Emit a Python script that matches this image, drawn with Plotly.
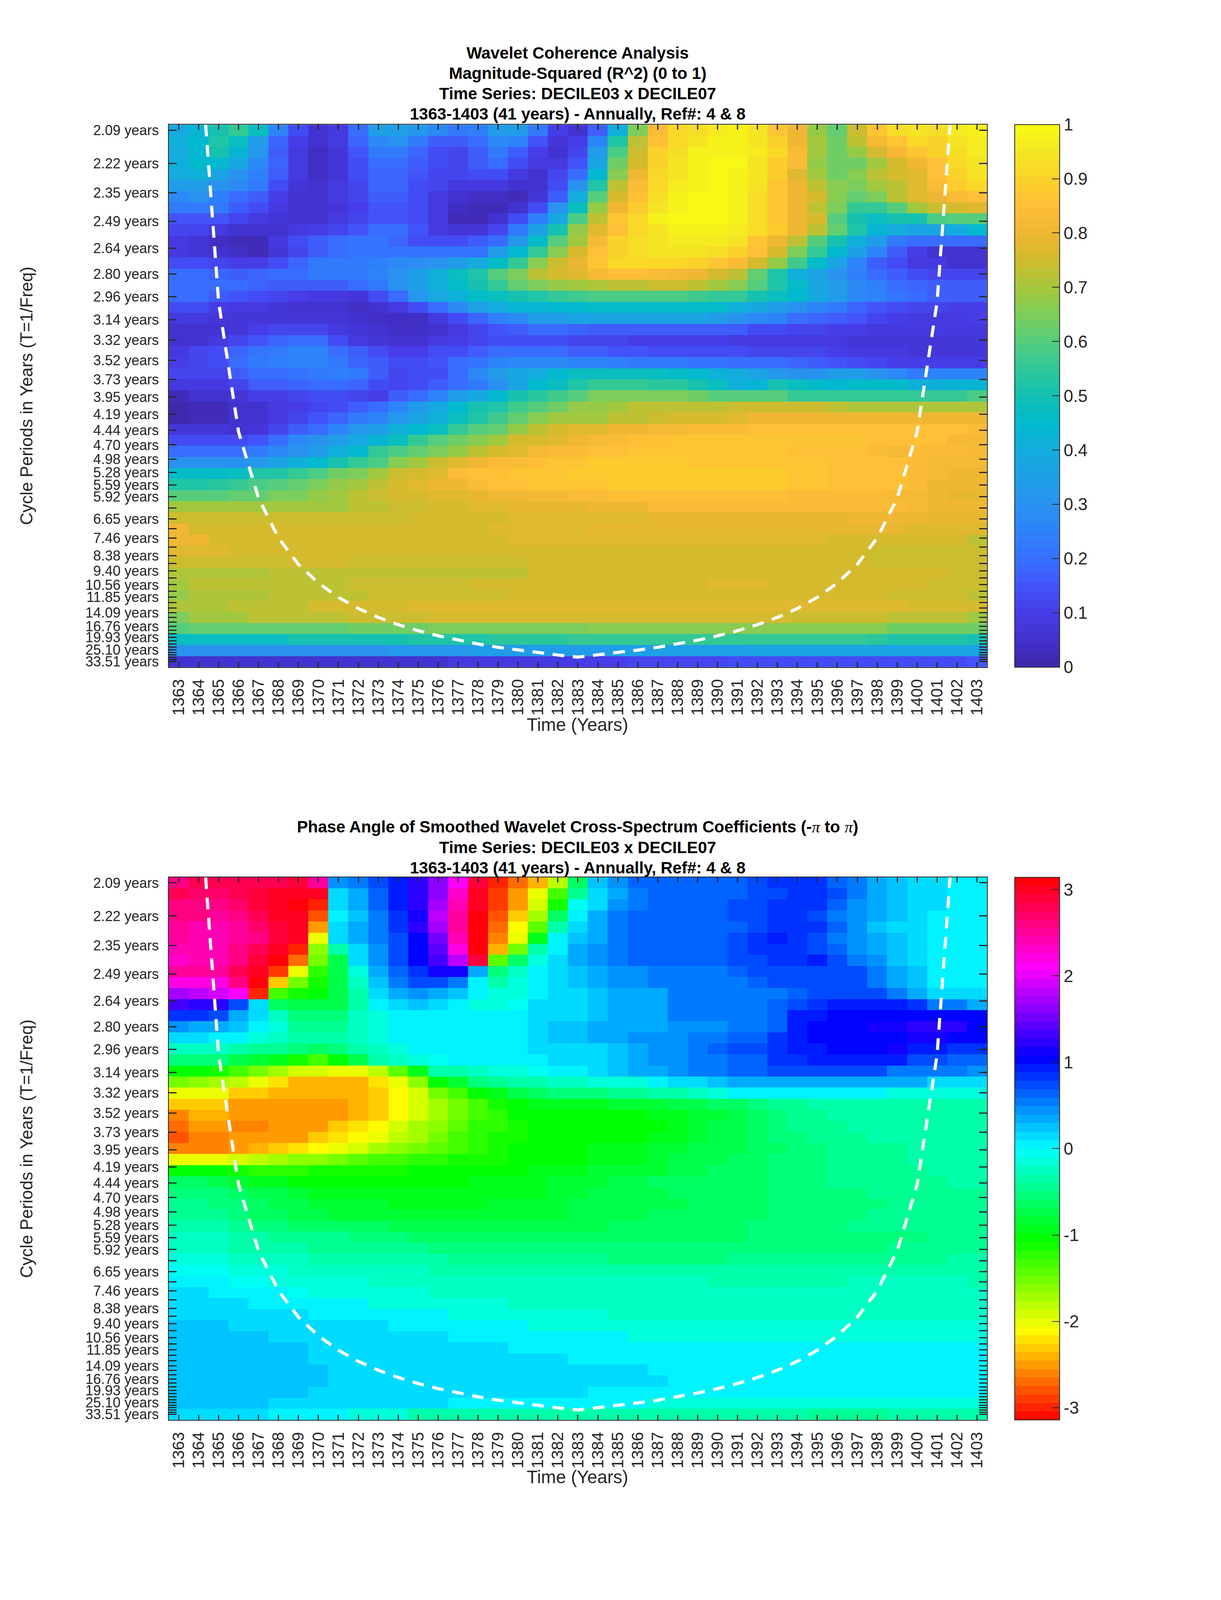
import colorsys
import numpy as np
import plotly.graph_objects as go

W, H = 3125, 6252

YEARS = list(range(1363, 1404))

# cwt periods, every scale gets a tick, only some have a label
PERIODS = [2.09, 2.22, 2.35, 2.49, 2.64, 2.80, 2.96, 3.14, 3.32, 3.52, 3.73, 3.95, 4.19, 4.44, 4.70, 4.98, 5.28,
           5.59, 5.92, 6.27, 6.65, 7.05, 7.46, 7.90, 8.38, 8.88, 9.40, 9.96, 10.56, 11.19, 11.85, 12.55, 13.30,
           14.09, 14.93, 15.82, 16.76, 17.76, 18.81, 19.93, 21.12, 22.37, 23.71, 25.10, 26.60, 28.18, 29.86,
           31.63, 33.51]
UNLABELLED = [6.27, 7.05, 7.90, 8.88, 9.96, 11.19, 12.55, 13.30, 14.93, 15.82, 17.76, 18.81, 21.12, 22.37, 23.71,
              26.60, 28.18, 29.86, 31.63]

# cone of influence
COI_YEAR = [1364.35, 1365, 1366, 1367, 1368, 1369, 1370, 1371, 1372, 1373, 1374, 1375, 1376, 1377, 1378, 1379, 1380,
            1381, 1382, 1383, 1384, 1385, 1386, 1387, 1388, 1389, 1390, 1391, 1392, 1393, 1394, 1395, 1396, 1397,
            1398, 1399, 1400, 1401, 1401.65]
COI_PERIOD = [2.07, 3.0, 4.47, 5.96, 7.45, 8.94, 10.4, 11.9, 13.4, 14.9, 16.4, 17.9, 19.4, 20.9, 22.4, 23.9, 25.3,
              26.8, 28.3, 29.8, 28.3, 26.8, 25.3, 23.9, 22.4, 20.9, 19.4, 17.9, 16.4, 14.9, 13.4, 11.9, 10.4, 8.94,
              7.45, 5.96, 4.47, 3.0, 2.07]

# coherence in percent, one row per period, one column per year
COHERENCE = [
    [38,43,50,55,47,25,14,6,8,20,35,35,32,27,23,24,33,33,22,10,5,16,42,65,83,91,93,96,97,94,87,80,68,62,74,87,93,94,93,96,98],
    [42,45,52,47,33,18,10,5,8,18,28,30,22,17,17,20,27,25,15,7,10,26,52,72,85,92,94,97,97,95,90,80,70,63,72,82,87,91,90,95,96],
    [40,45,50,43,32,17,9,4,7,15,22,23,18,13,12,17,22,17,10,6,12,33,58,74,90,93,97,98,98,96,91,84,70,63,68,75,82,86,90,93,96],
    [42,44,45,38,28,18,9,4,7,14,20,20,17,13,12,16,20,14,8,8,15,36,63,76,90,94,98,99,99,95,89,83,68,63,63,70,76,80,85,91,95],
    [40,41,36,31,24,16,8,4,7,13,18,18,15,11,11,13,13,8,6,11,20,44,67,80,91,95,98,99,98,95,88,78,70,63,67,72,76,78,85,90,94],
    [34,34,31,28,22,14,7,5,8,12,18,18,14,11,8,8,8,5,5,14,30,52,72,83,92,96,98,99,98,95,87,80,72,66,65,70,73,78,84,88,91],
    [27,30,24,20,16,10,6,5,8,12,17,17,13,9,5,4,4,3,7,17,40,60,75,85,93,97,99,100,98,93,86,80,75,67,62,65,72,77,80,83,85],
    [23,23,22,17,13,8,6,5,7,10,15,15,13,8,4,2,2,5,14,30,47,68,80,88,95,98,100,100,98,93,86,80,72,65,55,55,60,70,74,76,78],
    [15,15,15,11,9,7,6,6,9,12,15,15,14,9,3,2,5,13,24,38,58,72,87,92,97,99,100,100,97,93,87,80,75,60,50,47,50,50,58,60,60],
    [12,11,8,6,5,5,9,10,12,15,19,19,15,8,7,7,12,22,35,50,68,78,85,92,95,98,98,97,96,93,88,80,72,62,52,43,40,37,37,40,44],
    [8,7,4,3,3,9,13,16,19,21,21,18,14,13,13,17,20,32,46,60,70,82,90,93,95,96,96,96,94,87,80,72,60,50,42,33,22,20,20,20,20],
    [8,7,5,4,3,7,12,16,20,21,21,21,21,21,21,21,33,45,55,66,76,85,90,93,94,94,94,93,90,85,75,65,55,45,35,25,17,10,6,6,6],
    [13,13,12,10,10,14,18,22,22,22,24,27,29,31,33,40,46,55,66,74,79,86,91,91,91,91,90,87,84,76,68,57,46,37,26,17,13,8,8,5,5],
    [19,19,18,17,18,19,20,22,22,23,26,31,35,42,47,53,60,65,72,75,78,82,85,85,84,82,80,76,72,62,52,42,37,30,24,20,17,13,12,11,11],
    [20,20,20,19,18,17,17,17,17,19,22,30,35,42,46,50,55,62,65,68,70,71,72,72,74,74,72,70,67,60,52,46,38,33,28,24,20,18,17,16,16],
    [19,19,17,15,13,12,10,9,8,7,13,20,32,38,42,46,47,50,53,55,57,58,58,58,58,58,57,56,55,50,47,44,38,33,28,25,21,19,17,16,16],
    [13,13,10,9,8,7,5,5,5,4,6,8,14,20,28,35,40,43,43,44,45,46,46,46,46,46,46,46,42,38,34,30,26,23,18,15,13,12,11,10,10],
    [8,8,7,7,7,7,7,7,7,5,4,4,4,8,13,18,24,28,33,34,36,36,36,36,36,36,36,33,30,27,25,20,18,16,15,12,10,9,9,9,10],
    [5,5,5,7,10,12,12,12,9,7,5,4,4,5,8,12,15,17,19,19,18,17,17,17,17,17,17,16,16,14,13,11,11,10,10,8,8,8,8,8,8],
    [5,6,8,12,15,18,19,19,13,9,7,6,6,9,10,12,14,14,14,13,12,11,11,10,10,10,10,10,9,9,9,9,8,8,7,7,7,7,7,7,7],
    [8,11,13,18,21,23,25,26,20,16,13,10,10,13,14,17,20,20,20,19,17,16,15,15,14,14,13,13,13,12,12,11,11,10,9,8,8,7,7,7,7],
    [10,11,14,20,22,24,25,26,22,18,16,13,13,15,20,21,26,28,28,27,26,25,24,23,22,22,21,21,20,20,20,18,17,15,13,12,10,10,10,10,10],
    [12,12,12,17,20,20,21,23,24,22,17,12,13,14,20,27,33,38,40,44,47,48,48,48,47,46,44,42,40,36,32,30,30,33,34,30,28,23,25,25,25],
    [8,8,8,12,16,17,18,20,20,18,14,11,14,17,20,22,30,36,44,48,53,55,56,56,54,54,50,47,42,43,50,48,46,45,46,46,46,42,42,43,43],
    [3,5,6,7,10,10,12,13,13,12,10,16,20,26,33,38,44,50,54,57,60,65,65,65,65,65,63,60,60,60,60,56,56,55,55,55,55,55,55,55,58],
    [0,2,3,5,6,9,10,11,14,17,20,26,33,38,45,50,53,57,60,63,68,68,70,73,73,73,73,73,74,74,74,74,74,72,71,71,71,71,71,71,71],
    [1,2,3,5,6,8,11,15,18,22,25,32,37,42,48,53,57,62,66,70,70,70,72,72,74,75,76,76,77,80,80,80,80,80,80,80,80,80,80,80,80],
    [7,7,7,6,7,12,16,20,25,32,34,42,45,48,55,60,62,68,72,76,77,78,80,80,82,82,84,84,84,85,85,85,85,85,85,85,85,85,85,85,83],
    [13,13,13,13,15,20,27,30,33,38,43,48,55,60,63,67,70,75,76,78,80,82,83,85,85,86,86,86,86,86,86,86,86,86,86,85,85,85,85,82,82],
    [20,20,20,20,22,27,30,34,42,45,55,58,62,65,68,73,75,78,82,83,84,85,85,87,87,87,87,87,87,87,87,85,85,85,85,83,82,83,84,84,82],
    [30,30,30,30,32,37,42,45,50,55,59,66,70,74,78,80,83,84,85,87,87,88,88,88,88,88,87,87,87,87,87,86,86,85,85,85,85,83,82,82,82],
    [46,46,46,47,52,53,55,58,63,65,70,74,76,78,83,85,85,86,87,87,88,89,89,89,89,89,88,88,88,88,88,86,86,85,85,85,85,83,82,80,80],
    [53,53,54,56,58,60,62,65,68,70,73,76,78,80,81,83,85,85,86,87,87,87,88,88,88,88,88,88,88,88,88,86,86,85,85,85,85,83,80,80,80],
    [60,60,60,62,62,65,65,68,70,72,74,75,76,78,78,79,80,80,82,82,83,83,85,85,85,85,85,85,85,85,85,84,84,84,84,84,82,82,80,79,79],
    [70,70,70,70,70,70,70,70,70,72,72,74,74,76,76,77,77,79,79,79,79,81,81,81,83,83,84,84,84,84,84,84,84,83,83,83,83,82,80,80,80],
    [74,74,74,74,74,74,74,74,74,74,74,74,75,76,76,76,76,77,77,77,77,78,78,78,79,79,79,79,79,79,79,79,79,79,80,80,80,80,79,79,79],
    [80,76,76,76,76,76,76,76,76,76,76,76,76,76,76,76,77,77,77,77,77,79,79,79,79,79,79,79,79,79,79,79,79,79,79,79,79,77,77,77,77],
    [80,80,76,76,76,76,76,76,76,76,76,76,76,76,76,76,76,77,77,77,77,77,77,77,77,77,77,77,77,77,77,77,77,76,76,76,76,76,76,76,73],
    [78,78,78,75,75,75,75,75,75,75,75,75,75,75,75,76,76,76,76,76,76,76,76,76,76,76,76,76,76,76,76,76,76,76,76,74,74,74,74,74,74],
    [74,74,74,74,74,74,75,75,75,74,74,74,74,74,74,74,74,74,75,75,75,75,75,75,75,75,75,75,75,75,75,75,75,75,75,74,74,74,74,74,74],
    [71,71,71,71,71,72,72,72,72,72,72,73,73,73,73,73,73,73,75,75,75,75,75,75,75,75,75,75,75,75,75,75,75,75,75,75,75,75,75,74,74],
    [69,72,72,72,72,72,72,72,72,74,74,74,74,74,74,76,76,76,76,76,76,76,76,76,76,76,76,77,77,77,76,76,76,76,76,76,76,76,74,74,74],
    [68,71,71,71,71,73,73,73,73,73,74,74,74,74,74,74,74,75,75,75,75,75,75,75,75,75,75,75,75,75,75,75,75,75,75,75,74,74,74,74,72],
    [71,71,71,73,73,73,73,75,75,75,75,75,77,77,77,77,77,77,77,77,77,78,78,78,78,78,78,78,78,78,78,78,77,77,77,77,77,75,75,75,75],
    [65,70,70,70,72,72,72,72,72,74,74,74,74,75,75,75,75,75,75,75,75,75,75,75,75,75,76,76,75,75,75,74,74,74,74,74,73,73,73,73,70],
    [60,61,61,61,61,62,62,62,62,64,64,64,64,65,65,65,65,65,65,65,65,67,67,67,67,67,67,67,67,67,66,66,66,66,66,66,64,64,64,64,64],
    [47,48,48,48,48,48,50,50,50,51,51,51,53,53,53,53,54,54,54,54,55,55,55,55,55,55,55,55,55,55,55,55,55,55,55,54,52,52,52,52,50],
    [30,30,30,31,31,31,31,31,31,31,31,32,32,32,32,33,33,33,33,34,34,34,35,35,35,35,35,35,35,36,36,36,36,36,36,36,36,36,36,36,37],
    [5,5,5,5,5,5,5,5,5,5,6,6,6,6,8,8,8,8,9,9,10,10,10,11,11,11,12,12,13,13,13,13,13,14,14,14,14,14,14,14,15],
]

# phase angle in radians, same shape
PHASE = [
    [2.6,2.75,2.75,2.75,2.75,2.8,2.85,2.5,.45,.5,.7,.95,1.2,1.6,2.1,2.9,-2.95,-2.7,-2.4,-1.8,-.6,.2,.45,.6,.65,.65,.65,.65,.65,.7,.8,.85,.85,.65,.5,.35,.25,.12,.1,0,0],
    [2.75,2.7,2.7,2.75,2.9,2.95,3,2.95,.15,.35,.6,.95,1.2,1.65,2.3,2.95,-2.85,-2.5,-2.0,-1.3,-.4,.17,.35,.55,.62,.62,.62,.62,.65,.7,.75,.85,.85,.7,.52,.3,.2,.15,.1,0,0],
    [2.65,2.65,2.65,2.7,2.85,2.95,3.05,-3.0,.15,.35,.6,.95,1.2,1.7,2.4,3.0,-2.9,-2.5,-1.9,-1.1,-.05,.15,.4,.55,.62,.62,.62,.62,.7,.75,.8,.85,.8,.6,.45,.3,.2,.12,.1,0,0],
    [2.6,2.6,2.55,2.6,2.75,2.95,3.0,-2.75,.05,.25,.55,.85,1.15,1.8,2.5,3.05,-2.75,-2.3,-1.7,-.6,0,.3,.5,.6,.6,.6,.6,.6,.7,.75,.8,.8,.7,.55,.4,.3,.2,.1,.05,0,0],
    [2.5,2.45,2.45,2.5,2.7,2.85,3,-2.55,.1,.3,.55,.85,1.2,1.7,2.55,3.05,-2.7,-2.15,-1.4,-.3,.15,.3,.5,.6,.6,.6,.6,.6,.65,.72,.85,.85,.8,.6,.42,.25,.17,.1,.05,0,0],
    [2.5,2.45,2.45,2.5,2.65,2.85,3,-2.0,.1,.3,.5,.75,1.05,1.5,2.45,3.1,-2.6,-2,-.9,.0,.2,.35,.5,.6,.6,.6,.6,.65,.72,.85,.9,.85,.7,.55,.42,.3,.2,.15,.05,0,0],
    [2.45,2.45,2.45,2.6,2.8,3.0,-3.0,-1.6,-.3,.17,.45,.75,1.05,1.45,2.2,3.05,-2.45,-1.5,-.3,.05,.3,.4,.5,.62,.62,.62,.62,.65,.72,.8,.85,.85,.7,.6,.45,.3,.2,.12,.05,0,0],
    [2.35,2.4,2.45,2.6,2.9,3.14,-2.7,-1.5,-.7,.15,.4,.75,1.05,1.3,1.85,2.85,-1.4,-.6,-.1,.1,.35,.4,.5,.6,.62,.62,.62,.65,.7,.75,.85,.85,.9,.7,.55,.4,.2,.12,.05,0,0],
    [2.5,2.5,2.5,2.75,3.0,-2.9,-2.0,-1.2,-.7,-.1,.3,.65,.85,1.1,1.1,.3,-.55,-.2,0,.1,.2,.35,.4,.42,.52,.52,.52,.58,.65,.72,.72,.72,.72,.72,.72,.52,.35,.2,.05,0,0],
    [2.2,2.2,2.2,2.65,3.05,-2.3,-1.55,-1.1,-.75,-.25,.2,.5,.7,.7,.55,0,-.3,-.1,0,.1,.2,.35,.4,.4,.52,.52,.52,.52,.52,.65,.7,.72,.72,.72,.72,.55,.35,.22,.05,0,0],
    [1.75,1.85,1.9,2.1,-2.95,-1.3,-1.1,-1.0,-.75,-.35,.1,.35,.4,.35,.2,0,-.12,-.1,0,.1,.15,.2,.3,.35,.35,.55,.55,.55,.55,.55,.55,.65,.7,.7,.7,.7,.55,.35,.18,.1,.1],
    [1.3,1.2,1.2,.75,.15,-.6,-.75,-.75,-.7,-.35,0,.1,.2,.1,0,-.1,-.1,-.05,.1,.1,.15,.25,.3,.35,.35,.52,.52,.52,.52,.52,.65,.75,.85,.9,.9,.9,.95,.85,.55,.5,.35],
    [.85,.85,.7,.35,.15,-.25,-.5,-.5,-.5,-.2,-.1,0,0,0,0,0,0,.05,.1,.15,.15,.25,.3,.35,.35,.5,.5,.5,.5,.55,.65,.9,.95,1.0,1.05,1.05,1.05,1.05,1.05,1.05,1.05],
    [.45,.35,.3,.2,0,-.1,-.4,-.45,-.4,-.25,-.1,0,0,0,0,0,0,0,.1,.2,.2,.3,.3,.35,.35,.45,.45,.45,.5,.5,.6,.9,1.0,1.05,1.05,1.1,1.15,1.2,1.2,1.2,1.05],
    [.17,.15,.05,.0,-.1,-.2,-.3,-.35,-.35,-.2,-.1,0,0,0,0,0,0,.05,.1,.2,.2,.3,.3,.4,.4,.45,.55,.55,.6,.6,.8,.95,1.0,1.0,1.05,1.05,1.05,1.1,1.1,1.05,1.0],
    [-.2,-.2,-.2,-.3,-.4,-.45,-.55,-.6,-.5,-.35,-.2,-.1,0,0,0,0,0,.05,.1,.1,.15,.15,.2,.35,.4,.45,.5,.6,.7,.7,.85,.9,.95,1.0,1.0,1.0,1.1,.95,.9,.85,.8],
    [-.55,-.55,-.55,-.75,-.85,-.95,-1.15,-1.3,-1.05,-.7,-.3,-.2,-.15,-.05,0,0,0,0,0,.1,.15,.15,.25,.35,.4,.4,.5,.55,.6,.65,.8,.8,.9,.95,.95,.95,.95,.75,.75,.65,.6],
    [-1.05,-1.05,-1.1,-1.3,-1.5,-1.75,-1.9,-1.95,-2.05,-2.05,-1.85,-1.4,-.9,-.35,-.3,-.2,-.15,-.1,-.05,0,0,.1,.2,.3,.35,.4,.5,.5,.6,.6,.7,.7,.7,.7,.7,.7,.5,.5,.5,.5,.4],
    [-1.55,-1.6,-1.7,-1.85,-2.05,-2.2,-2.4,-2.4,-2.4,-2.4,-2.25,-2.05,-1.6,-1.0,-.85,-.55,-.45,-.35,-.3,-.25,-.2,-.15,-.1,-.1,0,.1,.1,.2,.3,.3,.3,.3,.3,.3,.3,.3,.3,.3,.15,.15,.15],
    [-2.0,-2.05,-2.05,-2.3,-2.3,-2.4,-2.45,-2.45,-2.45,-2.4,-2.3,-2.1,-1.9,-1.5,-1.3,-1.05,-.9,-.7,-.6,-.55,-.5,-.5,-.4,-.4,-.3,-.3,-.2,-.1,0,0,0,0,0,0,0,0,-.1,-.1,-.1,-.15,-.15],
    [-2.3,-2.3,-2.3,-2.5,-2.5,-2.5,-2.5,-2.5,-2.5,-2.45,-2.3,-2.1,-1.9,-1.75,-1.5,-1.3,-1.1,-1.0,-.95,-.95,-.9,-.9,-.85,-.85,-.8,-.75,-.7,-.6,-.6,-.5,-.45,-.4,-.35,-.3,-.3,-.3,-.3,-.3,-.3,-.3,-.3],
    [-2.6,-2.45,-2.45,-2.5,-2.5,-2.5,-2.5,-2.5,-2.5,-2.4,-2.3,-2.1,-1.9,-1.7,-1.5,-1.3,-1.2,-1.05,-1.05,-1.05,-1.05,-1.05,-1.05,-1.05,-.95,-.9,-.85,-.8,-.75,-.6,-.5,-.4,-.4,-.35,-.35,-.3,-.3,-.3,-.3,-.3,-.3],
    [-2.7,-2.55,-2.55,-2.65,-2.65,-2.5,-2.5,-2.5,-2.35,-2.2,-2.1,-1.95,-1.75,-1.6,-1.4,-1.25,-1.2,-1.1,-1.05,-1.05,-1.05,-1.05,-1.05,-1.05,-1.0,-.95,-.85,-.75,-.7,-.6,-.5,-.45,-.45,-.4,-.35,-.35,-.3,-.3,-.3,-.3,-.3],
    [-2.8,-2.65,-2.65,-2.55,-2.55,-2.5,-2.5,-2.35,-2.25,-2.15,-2.05,-1.85,-1.7,-1.55,-1.35,-1.25,-1.1,-1.1,-1.05,-1.05,-1.05,-1.05,-1.05,-1.05,-.95,-.95,-.85,-.75,-.7,-.6,-.55,-.5,-.45,-.4,-.4,-.35,-.35,-.35,-.35,-.35,-.35],
    [-2.6,-2.6,-2.6,-2.5,-2.45,-2.35,-2.25,-2.1,-2.05,-1.9,-1.7,-1.6,-1.5,-1.4,-1.3,-1.2,-1.1,-1.05,-1.05,-1.05,-1.0,-.95,-.95,-.9,-.85,-.8,-.75,-.75,-.7,-.65,-.6,-.55,-.5,-.45,-.4,-.4,-.4,-.35,-.35,-.35,-.35],
    [-2.05,-2.05,-2.05,-1.95,-1.8,-1.7,-1.65,-1.6,-1.55,-1.45,-1.35,-1.3,-1.25,-1.2,-1.15,-1.1,-1.1,-1.05,-1.05,-1.05,-1.0,-.95,-.9,-.9,-.85,-.75,-.75,-.7,-.65,-.6,-.55,-.55,-.5,-.45,-.4,-.4,-.4,-.35,-.35,-.35,-.35],
    [-1.0,-1.05,-1.05,-1.1,-1.25,-1.2,-1.2,-1.15,-1.15,-1.1,-1.1,-1.1,-1.05,-1.05,-1.05,-1.05,-1.0,-1.0,-.95,-.95,-.9,-.85,-.85,-.8,-.8,-.7,-.7,-.65,-.65,-.6,-.55,-.55,-.5,-.45,-.45,-.4,-.4,-.4,-.35,-.35,-.35],
    [-.65,-.65,-.7,-.8,-.9,-.95,-1,-1.0,-1,-1,-1.05,-1.05,-1.05,-1.05,-1.05,-.95,-.9,-.9,-.9,-.85,-.8,-.8,-.75,-.7,-.65,-.65,-.65,-.6,-.6,-.6,-.55,-.55,-.5,-.45,-.45,-.45,-.45,-.45,-.45,-.35,-.35],
    [-.5,-.5,-.55,-.6,-.7,-.75,-.85,-.9,-.95,-.95,-.95,-.95,-.95,-.95,-.95,-.95,-.9,-.9,-.9,-.85,-.8,-.75,-.75,-.7,-.7,-.65,-.65,-.65,-.6,-.6,-.55,-.55,-.55,-.5,-.5,-.45,-.45,-.45,-.45,-.45,-.45],
    [-.45,-.45,-.5,-.55,-.65,-.7,-.75,-.8,-.85,-.85,-.85,-.95,-.95,-.95,-.95,-.95,-.85,-.85,-.85,-.8,-.75,-.75,-.75,-.7,-.7,-.7,-.65,-.65,-.6,-.6,-.55,-.55,-.55,-.5,-.5,-.5,-.45,-.45,-.45,-.45,-.45],
    [-.4,-.4,-.45,-.5,-.6,-.65,-.7,-.75,-.8,-.8,-.8,-.85,-.85,-.85,-.85,-.85,-.85,-.8,-.8,-.8,-.75,-.75,-.7,-.7,-.65,-.65,-.65,-.65,-.65,-.6,-.55,-.55,-.55,-.5,-.5,-.45,-.45,-.45,-.45,-.45,-.45],
    [-.35,-.3,-.35,-.4,-.5,-.55,-.6,-.6,-.65,-.65,-.65,-.7,-.7,-.7,-.7,-.7,-.7,-.7,-.7,-.7,-.7,-.7,-.65,-.65,-.65,-.65,-.6,-.6,-.6,-.55,-.55,-.55,-.5,-.5,-.45,-.45,-.45,-.45,-.45,-.45,-.45],
    [-.2,-.25,-.25,-.3,-.35,-.4,-.45,-.45,-.45,-.5,-.55,-.55,-.6,-.6,-.6,-.6,-.6,-.6,-.6,-.6,-.6,-.6,-.6,-.6,-.6,-.6,-.6,-.6,-.6,-.55,-.55,-.55,-.5,-.5,-.5,-.5,-.5,-.5,-.45,-.45,-.4],
    [-.2,-.2,-.2,-.3,-.3,-.35,-.35,-.4,-.4,-.45,-.45,-.45,-.45,-.5,-.5,-.5,-.55,-.55,-.55,-.55,-.55,-.55,-.55,-.55,-.55,-.55,-.55,-.55,-.55,-.55,-.55,-.55,-.55,-.5,-.5,-.5,-.45,-.45,-.45,-.45,-.45],
    [-.1,-.1,-.12,-.2,-.2,-.2,-.25,-.3,-.3,-.3,-.35,-.35,-.35,-.35,-.4,-.4,-.4,-.4,-.4,-.4,-.4,-.4,-.5,-.5,-.5,-.5,-.5,-.5,-.45,-.45,-.45,-.4,-.4,-.4,-.4,-.4,-.4,-.4,-.4,-.35,-.35],
    [-.05,-.05,-.05,-.15,-.15,-.15,-.2,-.2,-.25,-.25,-.25,-.25,-.25,-.3,-.3,-.3,-.3,-.3,-.35,-.35,-.35,-.35,-.35,-.35,-.35,-.35,-.35,-.35,-.35,-.35,-.35,-.35,-.35,-.35,-.3,-.3,-.3,-.3,-.3,-.3,-.3],
    [0,0,0,-.02,-.02,-.1,-.1,-.15,-.15,-.15,-.2,-.2,-.2,-.2,-.2,-.2,-.25,-.25,-.25,-.25,-.25,-.25,-.25,-.25,-.25,-.25,-.25,-.3,-.3,-.3,-.3,-.3,-.3,-.3,-.25,-.25,-.25,-.25,-.25,-.25,-.3],
    [.1,.1,0,0,0,0,-.03,-.1,-.1,-.1,-.15,-.15,-.15,-.2,-.2,-.2,-.2,-.2,-.2,-.2,-.2,-.25,-.25,-.25,-.25,-.25,-.25,-.25,-.25,-.25,-.25,-.25,-.25,-.25,-.25,-.25,-.25,-.2,-.2,-.2,-.2],
    [.17]*4 + [0]*6 + [-.12]*7 + [-.22]*24,
    [.15]*7 + [0]*7 + [-.1]*8 + [-.22]*19,
    [.25]*3 + [.1]*8 + [0]*7 + [-.15]*23,
    [.25]*5 + [.12]*9 + [0]*9 + [-.12]*18,
    [.22]*7 + [.12]*10 + [0]*24,
    [.22]*7 + [.12]*13 + [0]*21,
    [.22]*8 + [.12]*16 + [0]*17,
    [.22]*8 + [.12]*17 + [0]*16,
    [.2]*7 + [.1]*14 + [0]*20,
    [.2]*5 + [.1]*9 + [0]*10 + [-.1]*17,
    [.1]*5 + [.02]*4 + [-.15]*3 + [-.35]*14 + [-.38]*6 + [-.45]*4 + [-.38]*5,
]

# colorbar of the reference sampled every 0.05
PARULA = [(62,38,168), (66,50,205), (70,60,232), (66,85,250), (55,112,255), (46,130,250), (42,145,240), (30,160,230),
          (20,172,222), (0,186,205), (18,192,180), (48,200,152), (85,205,125), (125,205,90), (165,200,60),
          (210,187,45), (238,182,52), (255,190,55), (250,210,42), (245,230,35), (249,251,20)]

TITLES_TOP = ["Wavelet Coherence Analysis", "Magnitude-Squared (R^2) (0 to 1)",
              "Time Series: DECILE03 x DECILE07", "1363-1403 (41 years) - Annually, Ref#: 4 & 8"]
PI = '<span style="font-family:Liberation Serif;font-weight:normal"><i>π</i></span>'
TITLES_BOT = [f"Phase Angle of Smoothed Wavelet Cross-Spectrum Coefficients (-{PI} to {PI})",
              "Time Series: DECILE03 x DECILE07", "1363-1403 (41 years) - Annually, Ref#: 4 & 8"]

FONT = "Liberation Sans"
INK = "#262626"


def stepped(colors, n=64):
    # matlab colormaps are n flat steps, plotly needs doubled stops for that
    out = []
    for i, c in enumerate(colors):
        out.append([i / n, c])
        out.append([(i + 1) / n, c])
    return out


def parula(n=64):
    xs = np.linspace(0, 1, len(PARULA))
    arr = np.array(PARULA, dtype=float)
    cols = []
    for t in (np.arange(n) + 0.5) / n:
        rgb = [int(round(np.interp(t, xs, arr[:, k]))) for k in range(3)]
        cols.append(f"rgb({rgb[0]},{rgb[1]},{rgb[2]})")
    return cols


def hsv_map(n=64):
    cols = []
    for i in range(n):
        r, g, b = colorsys.hsv_to_rgb((i + 0.5) / n, 1, 1)
        cols.append(f"rgb({int(r*255)},{int(g*255)},{int(b*255)})")
    return cols


freq_ticks = [1 / p for p in PERIODS]
freq_rows = np.linspace(freq_ticks[0], freq_ticks[-1], len(PERIODS))
df = freq_rows[0] - freq_rows[1]
tick_text = ["" if p in UNLABELLED else f"{p:.2f} years" for p in PERIODS]

fig = go.Figure()

X0, X1 = 426, 2531
CB_X = 2602
PANELS = [
    dict(top=469, bottom=2603, z=np.array(COHERENCE) / 100, zmin=0, zmax=1, cols=parula(),
         ticks=[0, .1, .2, .3, .4, .5, .6, .7, .8, .9, 1], xa="x", ya="y"),
    dict(top=3430, bottom=5565, z=np.array(PHASE), zmin=-np.pi, zmax=np.pi, cols=hsv_map(),
         ticks=[-3, -2, -1, 0, 1, 2, 3], xa="x2", ya="y2"),
]

for p in PANELS:
    fig.add_trace(go.Heatmap(
        x=YEARS, y=freq_rows, z=p["z"], zmin=p["zmin"], zmax=p["zmax"],
        colorscale=stepped(p["cols"]), xaxis=p["xa"], yaxis=p["ya"],
        colorbar=dict(
            x=CB_X / W, xanchor="left", xref="paper", thickness=115, thicknessmode="pixels",
            y=1 - p["bottom"] / H, yanchor="bottom", yref="paper",
            len=(p["bottom"] - p["top"]) / H, lenmode="fraction", ypad=0, xpad=0,
            tickvals=p["ticks"], ticktext=[str(t) for t in p["ticks"]],
            ticks="inside", ticklen=20, tickwidth=2, tickcolor=INK,
            tickfont=dict(family=FONT, size=44, color=INK),
            outlinecolor=INK, outlinewidth=2,
        ),
    ))
    fig.add_trace(go.Scatter(
        x=COI_YEAR, y=[1 / v for v in COI_PERIOD], mode="lines", xaxis=p["xa"], yaxis=p["ya"],
        line=dict(color="white", width=8, dash="30px,22px"), showlegend=False, hoverinfo="skip",
    ))

    ax_x = dict(
        domain=[X0 / W, X1 / W], range=[YEARS[0] - .5, YEARS[-1] + .5], anchor=p["ya"],
        tickvals=YEARS, ticktext=[str(y) for y in YEARS], tickangle=-90,
        ticks="inside", ticklen=13, tickwidth=3, tickcolor=INK, showline=True, linecolor=INK, linewidth=2,
        mirror="ticks", showgrid=False, zeroline=False, ticklabelstandoff=12,
        tickfont=dict(family=FONT, size=42, color=INK),
    )
    ax_y = dict(
        domain=[1 - p["bottom"] / H, 1 - p["top"] / H],
        range=[freq_rows[-1] - df / 2, freq_rows[0] + df / 2], anchor=p["xa"],
        tickvals=freq_ticks, ticktext=tick_text,
        ticks="inside", ticklen=20, tickwidth=3, tickcolor=INK, showline=True, linecolor=INK, linewidth=2,
        mirror="ticks", showgrid=False, zeroline=False, ticklabelstandoff=16,
        tickfont=dict(family=FONT, size=36, color=INK),
    )
    if p["xa"] == "x":
        fig.update_layout(xaxis=ax_x, yaxis=ax_y)
    else:
        fig.update_layout(xaxis2=ax_x, yaxis2=ax_y)


def note(text, px, py, size, angle=0, bold=False):
    fig.add_annotation(text=f"<b>{text}</b>" if bold else text, x=px / W, y=1 - py / H, xref="paper", yref="paper",
                       showarrow=False, textangle=angle, xanchor="center", yanchor="middle",
                       font=dict(family=FONT, size=size, color="black" if bold else INK))


for text, py in zip(TITLES_TOP, [187, 266, 347, 427]):
    note(text, 1478, py, 42, bold=True)
for text, py in zip(TITLES_BOT, [3231, 3312, 3392]):
    note(text, 1478, py, 42, bold=True)

note("Time (Years)", 1478, 2830, 46)
note("Time (Years)", 1478, 5790, 46)
note("Cycle Periods in Years (T=1/Freq)", 60, 1536, 44, angle=-90)
note("Cycle Periods in Years (T=1/Freq)", 60, 4498, 44, angle=-90)

# no fixed size here, the figure fills the browser window
fig.update_layout(margin=dict(l=0, r=0, t=0, b=0), paper_bgcolor="white", plot_bgcolor="white", showlegend=False)

fig.write_html("out.html")
